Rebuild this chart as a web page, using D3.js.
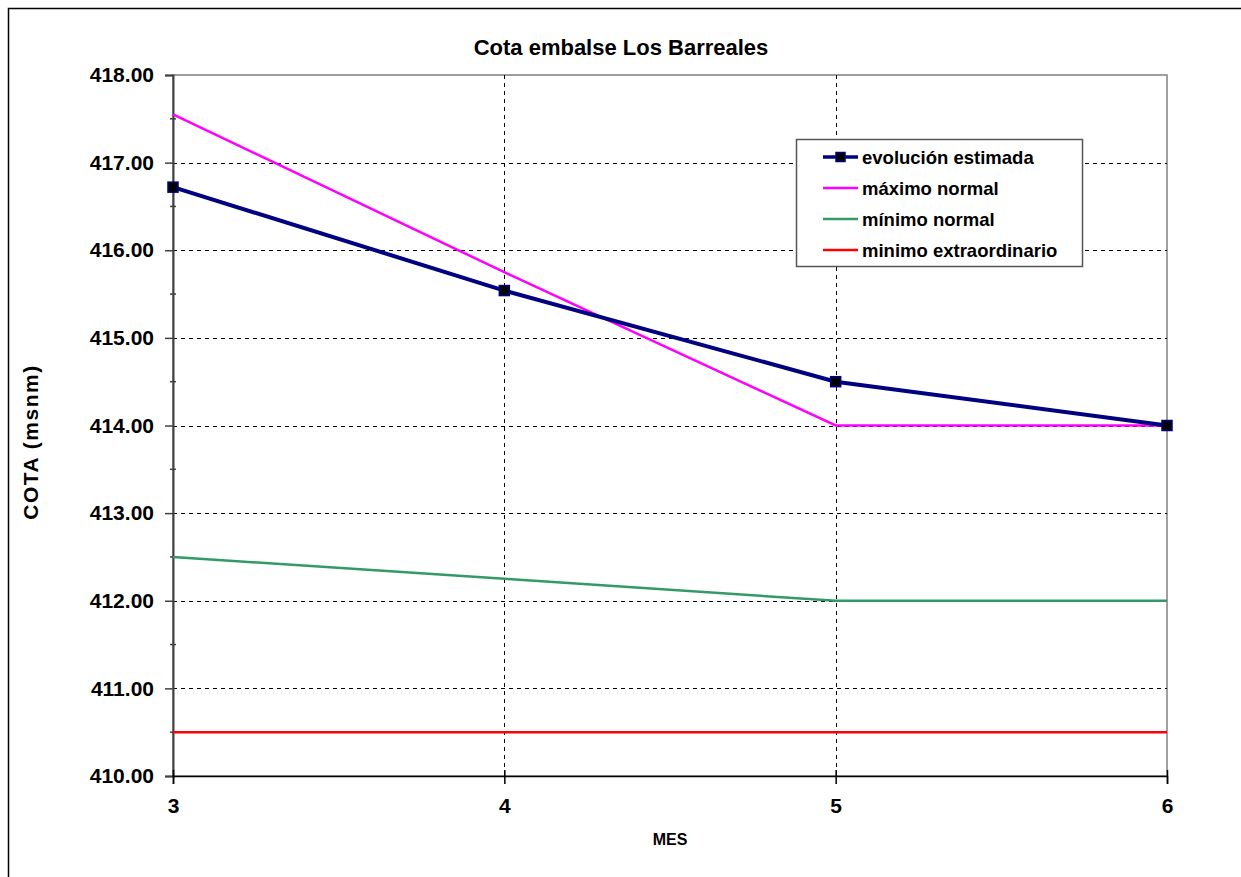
<!DOCTYPE html>
<html lang="es">
<head>
<meta charset="UTF-8">
<title>Cota embalse Los Barreales</title>
<script src="https://d3js.org/d3.v7.min.js"></script>
<style>
  body { margin: 0; background: #fff; }
  text { font-family: "Liberation Sans", Arial, sans-serif; font-weight: bold; fill: #000; }
</style>
</head>
<body>
<svg id="chart" width="1241" height="877"></svg>
<script>
// data
var meses = [3, 4, 5, 6];
var evolucion = [416.72, 415.54, 414.50, 414.00];
var maximoNormal = [417.55, 415.75, 414.00, 414.00];
var minimoNormal = [412.50, 412.25, 412.00, 412.00];
var minimoExtra = [410.50, 410.50, 410.50, 410.50];
var yTicks = [410, 411, 412, 413, 414, 415, 416, 417, 418];
var yMinor = [410.5, 411.5, 412.5, 413.5, 414.5, 415.5, 416.5, 417.5];

var series = [
    {name: "evolución estimada", values: evolucion, color: "#000080", width: 4, markers: true},
    {name: "máximo normal", values: maximoNormal, color: "#FF00FF", width: 2.5},
    {name: "mínimo normal", values: minimoNormal, color: "#339966", width: 2.5},
    {name: "minimo extraordinario", values: minimoExtra, color: "#FF0000", width: 2.5}
];

var svg = d3.select("#chart");

// outer chart border (runs off right/bottom)
svg.append("rect")
    .attr("x", 8.5).attr("y", 8.5)
    .attr("width", 1260).attr("height", 900)
    .attr("fill", "none").attr("stroke", "#000").attr("stroke-width", 1.5);

var x = d3.scaleLinear().domain([3, 6]).range([173, 1167]);
var y = d3.scaleLinear().domain([410, 418]).range([776, 75]);

// plot area frame (gray)
svg.append("rect")
    .attr("x", x(3)).attr("y", y(418))
    .attr("width", x(6) - x(3)).attr("height", y(410) - y(418))
    .attr("fill", "none").attr("stroke", "#808080").attr("stroke-width", 1.5);

// grid
svg.append("g").selectAll("line")
    .data(yTicks.slice(1))
    .enter().append("line")
    .attr("x1", x(3)).attr("x2", x(6))
    .attr("y1", function(d){ return Math.round(y(d)) + 0.5; })
    .attr("y2", function(d){ return Math.round(y(d)) + 0.5; })
    .attr("stroke", function(d){ return d === 418 ? "#999" : "#000"; })
    .attr("stroke-dasharray", "4,4").attr("stroke-width", 1);

svg.append("g").selectAll("line")
    .data([4, 5])
    .enter().append("line")
    .attr("x1", function(d){ return Math.round(x(d)) + 0.5; })
    .attr("x2", function(d){ return Math.round(x(d)) + 0.5; })
    .attr("y1", y(418)).attr("y2", y(410))
    .attr("stroke", "#000").attr("stroke-dasharray", "4,4").attr("stroke-width", 1);

// y axis
var yAxis = svg.append("g").attr("transform", "translate(" + x(3) + ",0)")
    .call(d3.axisLeft(y).tickValues(yTicks).tickSize(8).tickPadding(11)
        .tickFormat(d3.format(".2f")));
yAxis.select(".domain").attr("stroke", "#404040").attr("stroke-width", 2);
yAxis.selectAll(".tick line").attr("stroke", "#404040").attr("stroke-width", 1.5);
yAxis.selectAll("text").style("font-size", "21px").style("font-family", "'Liberation Sans', Arial, sans-serif").style("font-weight", "bold");

svg.append("g").selectAll("line")
    .data(yMinor)
    .enter().append("line")
    .attr("x1", x(3) - 3).attr("x2", x(3) + 3)
    .attr("y1", function(d){ return y(d); }).attr("y2", function(d){ return y(d); })
    .attr("stroke", "#404040").attr("stroke-width", 1.5);

// x axis
var xAxis = svg.append("g").attr("transform", "translate(0," + y(410) + ")")
    .call(d3.axisBottom(x).tickValues(meses).tickSize(8).tickPadding(14)
        .tickFormat(d3.format("d")));
xAxis.select(".domain").attr("stroke", "#000").attr("stroke-width", 1.5);
xAxis.selectAll(".tick line").attr("stroke", "#000").attr("stroke-width", 1.5).attr("y1", -6);
xAxis.selectAll("text").style("font-size", "21px").style("font-family", "'Liberation Sans', Arial, sans-serif").style("font-weight", "bold");

// lines
var line = d3.line()
    .x(function(d, i){ return x(meses[i]); })
    .y(function(d){ return y(d); });

series.slice().reverse().forEach(function(s){
    svg.append("path")
        .datum(s.values)
        .attr("d", line)
        .attr("fill", "none")
        .attr("stroke", s.color)
        .attr("stroke-width", s.width);
});

// markers for evolución
svg.append("g").selectAll("rect")
    .data(evolucion)
    .enter().append("rect")
    .attr("x", function(d, i){ return x(meses[i]) - 5; })
    .attr("y", function(d){ return y(d) - 5; })
    .attr("width", 10).attr("height", 10)
    .attr("fill", "#000").attr("stroke", "#000080").attr("stroke-width", 1.5);

// title
svg.append("text")
    .attr("x", 621).attr("y", 55)
    .attr("text-anchor", "middle")
    .style("font-size", "22px")
    .text("Cota embalse Los Barreales");

// axis titles
svg.append("text")
    .attr("transform", "translate(38,442) rotate(-90)")
    .attr("text-anchor", "middle")
    .style("font-size", "21px")
    .style("letter-spacing", "1.5px")
    .text("COTA (msnm)");

svg.append("text")
    .attr("x", 670).attr("y", 845)
    .attr("text-anchor", "middle")
    .style("font-size", "16px")
    .text("MES");

// legend
var legend = svg.append("g");
legend.append("rect")
    .attr("x", 796.5).attr("y", 139.5)
    .attr("width", 286).attr("height", 127)
    .attr("fill", "#fff").attr("stroke", "#555").attr("stroke-width", 1.5);

var legendY = d3.scalePoint().domain(series.map(function(s){ return s.name; })).range([157, 250]);

var items = legend.selectAll("g.item")
    .data(series)
    .enter().append("g").attr("class", "item")
    .attr("transform", function(s){ return "translate(0," + legendY(s.name) + ")"; });

items.append("line")
    .attr("x1", 823).attr("x2", 858)
    .attr("stroke", function(s){ return s.color; })
    .attr("stroke-width", function(s){ return s.width === 4 ? 3.5 : 2.5; });

items.filter(function(s){ return s.markers; })
    .append("rect")
    .attr("x", 836).attr("y", -4.5).attr("width", 9).attr("height", 9)
    .attr("fill", "#000").attr("stroke", "#000080").attr("stroke-width", 1.5);

items.append("text")
    .attr("x", 862).attr("y", 6.5)
    .style("font-size", "18.5px")
    .text(function(s){ return s.name; });
</script>
</body>
</html>
